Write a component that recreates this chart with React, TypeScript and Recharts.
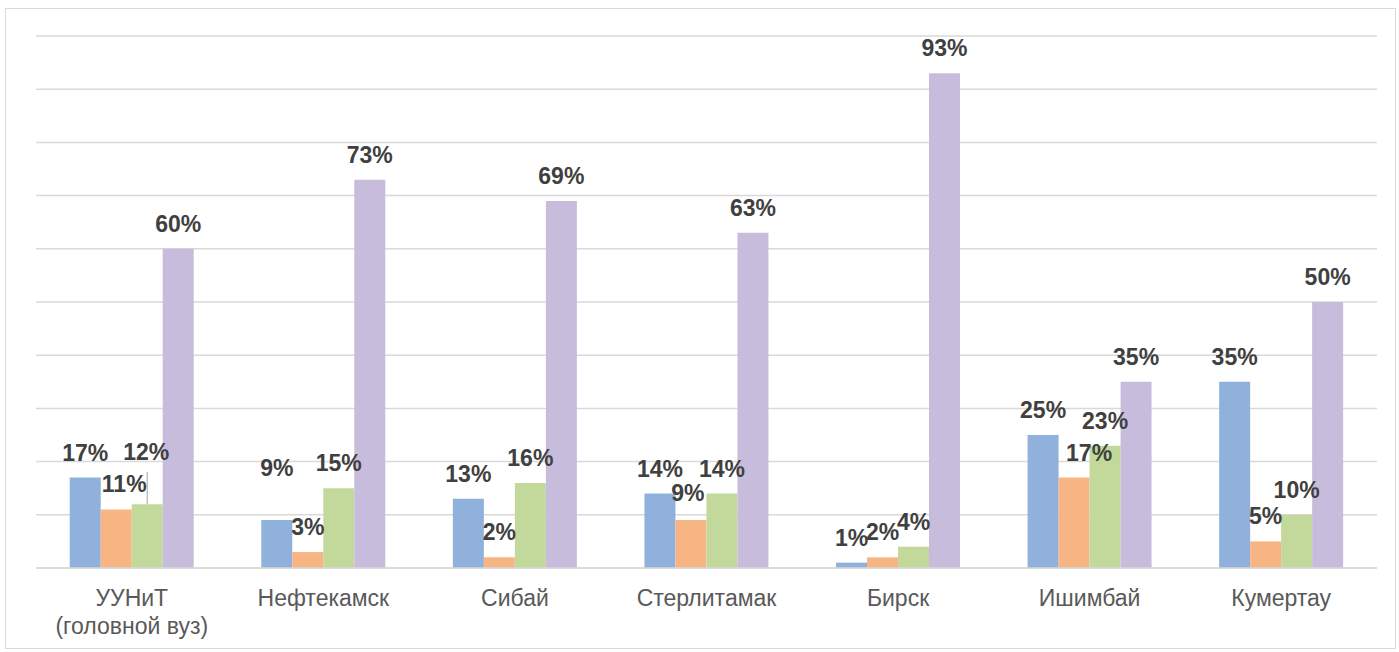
import React from 'react';
import { BarChart, Bar, XAxis, YAxis, CartesianGrid, LabelList } from 'recharts';

const categories = ['УУНиТ\n(головной вуз)', 'Нефтекамск', 'Сибай', 'Стерлитамак', 'Бирск', 'Ишимбай', 'Кумертау'];
const series1 = [17, 9, 13, 14, 1, 25, 35];
const series2 = [11, 3, 2, 9, 2, 17, 5];
const series3 = [12, 15, 16, 14, 4, 23, 10];
const series4 = [60, 73, 69, 63, 93, 35, 50];
const yTicks = [0, 10, 20, 30, 40, 50, 60, 70, 80, 90, 100];

const data = categories.map((c, i) => ({
  name: c,
  s1: series1[i],
  s2: series2[i],
  s3: series3[i],
  s4: series4[i],
}));

const colors = ['#8FB1DC', '#F8B584', '#C2D99B', '#C7BCDC'];
const FONT = '"Liberation Sans", Arial, sans-serif';

// label placement tweaks (as moved by hand in the original), keyed "series|categoryIndex"
const labelNudges: Record<string, { dx?: number; dy?: number; leader?: boolean }> = {
  's2|0': { dx: 8 },
  's3|0': { dx: -1, dy: -27, leader: true },
  's1|1': { dy: -27 },
  's2|3': { dx: -3, dy: -2 },
  's2|5': { dx: 15 },
};

const Tick = (props: any) => {
  const { x, y, payload } = props;
  const lines = String(payload.value).split('\n');
  return (
    <text x={x} y={y} textAnchor="middle" fill="#595959" fontSize={23} fontFamily={FONT}>
      {lines.map((l, i) => (
        <tspan key={i} x={x} dy={i === 0 ? 36 : 28}>{l}</tspan>
      ))}
    </text>
  );
};

const makeLabel = (key: string) => (props: any) => {
  const { x, y, width, value, index } = props;
  const n = labelNudges[`${key}|${index}`] || {};
  const cx = Number(x) + Number(width) / 2 + (n.dx || 0);
  const base = Number(y) - 17 + (n.dy || 0);
  return (
    <g>
      {n.leader && (
        <line
          x1={Number(x) + Number(width) / 2}
          x2={Number(x) + Number(width) / 2}
          y1={base + 12}
          y2={Number(y)}
          stroke="#a6a6a6"
          strokeWidth={1}
        />
      )}
      <text
        x={cx}
        y={base}
        textAnchor="middle"
        fontWeight="bold"
        fontSize={23}
        fill="#404040"
        fontFamily={FONT}
      >
        {`${value}%`}
      </text>
    </g>
  );
};

export default function App() {
  return (
    <div style={{ position: 'absolute', left: 0, top: 0, width: 1399, height: 652, background: '#fff' }}>
      <div style={{ position: 'absolute', left: 5, top: 8, width: 1389, height: 639, border: '1.5px solid #d9d9d9' }} />
      <div style={{ position: 'absolute', left: 0, top: 0 }}>
        <BarChart
          width={1399}
          height={652}
          data={data}
          margin={{ top: 36, right: 22, left: 36, bottom: 0 }}
          barGap={0}
          barCategoryGap="17.6%"
        >
          <CartesianGrid vertical={false} stroke="#d9d9d9" strokeWidth={1.5} />
          <YAxis hide width={0} domain={[0, 100]} ticks={yTicks} />
          <XAxis
            dataKey="name"
            height={84}
            axisLine={{ stroke: '#d9d9d9', strokeWidth: 1.5 }}
            tickLine={false}
            tickSize={0}
            tick={<Tick />}
            interval={0}
          />
          {(['s1', 's2', 's3', 's4'] as const).map((k, i) => (
            <Bar key={k} dataKey={k} fill={colors[i]} isAnimationActive={false}>
              <LabelList dataKey={k} content={makeLabel(k)} />
            </Bar>
          ))}
        </BarChart>
      </div>
    </div>
  );
}
